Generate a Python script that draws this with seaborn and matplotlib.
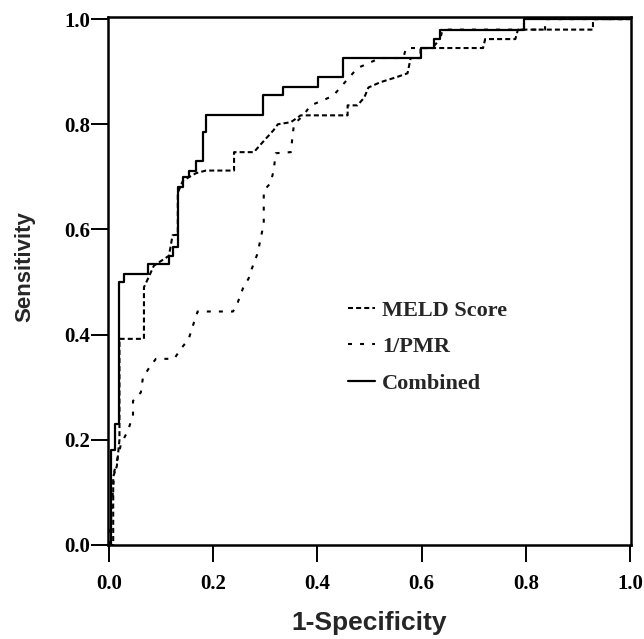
import matplotlib
matplotlib.use("Agg")
import matplotlib.pyplot as plt
import seaborn as sns
import pandas as pd

# ---- data ----
meld_x = [0.0, 0.008, 0.008, 0.015, 0.02, 0.02, 0.067, 0.067, 0.075, 0.086, 0.115, 0.122,
          0.132, 0.132, 0.142, 0.167, 0.186, 0.24, 0.24, 0.278, 0.295, 0.316, 0.324, 0.349,
          0.368, 0.458, 0.458, 0.477, 0.49, 0.498, 0.521, 0.553, 0.573, 0.579, 0.598, 0.598,
          0.718, 0.722, 0.78, 0.785, 0.929, 0.929, 1.0]
meld_y = [0.0, 0.0, 0.13, 0.15, 0.2, 0.392, 0.392, 0.49, 0.507, 0.531, 0.55, 0.589,
          0.59, 0.67, 0.693, 0.707, 0.712, 0.712, 0.747, 0.747, 0.766, 0.789, 0.80, 0.804,
          0.817, 0.817, 0.836, 0.836, 0.851, 0.87, 0.88, 0.89, 0.897, 0.926, 0.926, 0.945,
          0.945, 0.962, 0.962, 0.98, 0.98, 1.0, 1.0]

pmr_x = [0.0, 0.004, 0.01, 0.023, 0.036, 0.046, 0.046, 0.061, 0.065, 0.077, 0.09, 0.125,
         0.138, 0.153, 0.161, 0.17, 0.238, 0.247, 0.257, 0.268, 0.272, 0.285, 0.297, 0.297,
         0.31, 0.316, 0.32, 0.349, 0.352, 0.355, 0.373, 0.387, 0.412, 0.431, 0.444, 0.477,
         0.498, 0.52, 0.565, 0.57, 0.62, 0.636, 0.64, 0.837, 0.837, 1.0]
pmr_y = [0.0, 0.05, 0.14, 0.192, 0.217, 0.246, 0.274, 0.29, 0.318, 0.337, 0.354, 0.354,
         0.373, 0.392, 0.417, 0.444, 0.444, 0.461, 0.488, 0.507, 0.52, 0.554, 0.611, 0.674,
         0.688, 0.712, 0.745, 0.747, 0.775, 0.80, 0.817, 0.836, 0.846, 0.855, 0.87, 0.907,
         0.916, 0.926, 0.926, 0.945, 0.945, 0.962, 0.98, 0.98, 1.0, 1.0]

comb_x = [0.0, 0.004, 0.004, 0.011, 0.011, 0.02, 0.02, 0.028, 0.028, 0.075, 0.075, 0.115,
          0.115, 0.122, 0.122, 0.132, 0.132, 0.142, 0.142, 0.153, 0.153, 0.167, 0.167, 0.18,
          0.18, 0.186, 0.186, 0.295, 0.295, 0.333, 0.333, 0.402, 0.402, 0.45, 0.45, 0.598,
          0.598, 0.623, 0.623, 0.636, 0.636, 0.797, 0.797, 1.0]
comb_y = [0.0, 0.0, 0.18, 0.18, 0.23, 0.23, 0.50, 0.50, 0.516, 0.516, 0.535, 0.535,
          0.55, 0.55, 0.566, 0.566, 0.68, 0.68, 0.70, 0.70, 0.712, 0.712, 0.73, 0.73,
          0.785, 0.785, 0.817, 0.817, 0.855, 0.855, 0.87, 0.87, 0.89, 0.89, 0.926, 0.926,
          0.945, 0.945, 0.962, 0.962, 0.98, 0.98, 1.0, 1.0]

labels = ["MELD Score", "1/PMR", "Combined"]
ticks = [0.0, 0.2, 0.4, 0.6, 0.8, 1.0]
tick_labels = ["0.0", "0.2", "0.4", "0.6", "0.8", "1.0"]

sns.set_style("ticks")
plt.rcParams["font.family"] = ["Liberation Serif", "DejaVu Serif"]

fig = plt.figure(figsize=(6.44, 6.39), dpi=100)
ax = fig.add_axes([108 / 644, 94 / 639, 523 / 644, 528 / 639])

curves = [(meld_x, meld_y, (0, (2.4, 1.5)), 1.5),
          (pmr_x, pmr_y, (0, (1.9, 3.9)), 1.5),
          (comb_x, comb_y, "-", 1.6)]
for (xs, ys, ls, lw), lab in zip(curves, labels):
    df = pd.DataFrame({"x": xs, "y": ys})
    sns.lineplot(data=df, x="x", y="y", sort=False, estimator=None, color="black",
                 linestyle=ls, linewidth=lw, ax=ax, label=lab)

ax.set_xlim(-0.002, 1.002)
ax.set_ylim(0.0, 1.004)
ax.set_xticks(ticks)
ax.set_xticklabels(tick_labels)
ax.set_yticks(ticks)
ax.set_yticklabels(tick_labels)
for sp in ax.spines.values():
    sp.set_visible(True)
    sp.set_linewidth(1.8)
    sp.set_color("black")
ax.tick_params(axis="both", direction="out", length=12, width=1.4, colors="black",
               labelsize=15)
ax.tick_params(axis="y", pad=1)
ax.tick_params(axis="x", pad=9)
for t in ax.get_xticklabels() + ax.get_yticklabels():
    t.set_fontweight("bold")

ax.set_xlabel("1-Specificity", fontsize=19, fontweight="bold",
              family=["Liberation Sans", "DejaVu Sans"], va="center")
ax.set_ylabel("Sensitivity", fontsize=16, fontweight="bold",
              family=["Liberation Sans", "DejaVu Sans"], va="center")
ax.xaxis.set_label_coords(0.5, -0.148)
ax.yaxis.set_label_coords(-0.159, 0.527)

leg = ax.legend(loc="upper left", bbox_to_anchor=(0.458, 0.464), frameon=False,
                prop={"family": "Liberation Serif", "weight": "bold", "size": 16},
                handlelength=1.25, handletextpad=0.3, labelspacing=0.72, borderpad=0,
                borderaxespad=0)

fig.savefig("out.png", dpi=100)
